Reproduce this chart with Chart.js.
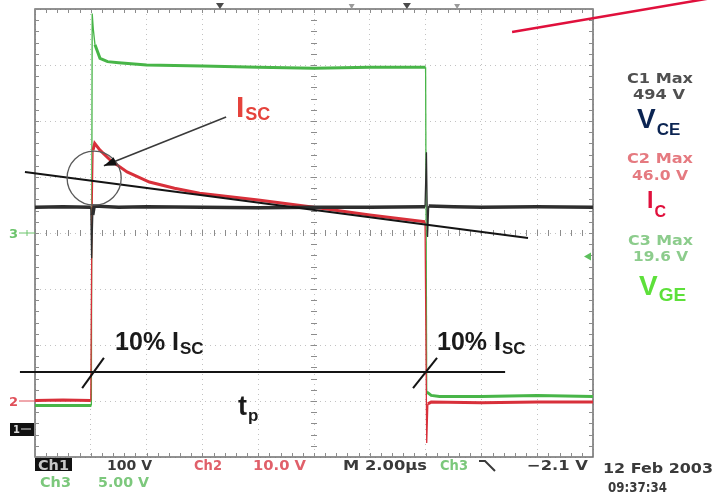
<!DOCTYPE html>
<html>
<head>
<meta charset="utf-8">
<title>Short-circuit test</title>
<script src="https://cdn.jsdelivr.net/npm/chart.js@4.4.0/dist/chart.umd.min.js"></script>
<style>
    body { margin: 0; background: #fff; }
    canvas { display: block; }
</style>
</head>
<body>
<canvas id="scope" width="713" height="497"></canvas>
<script>
// Scope capture: IGBT short-circuit pulse (VCE, IC, VGE)

// Channel settings: volts per division, ground level in divisions
const ch1 = { perDiv: 100, ground: 0.5 };   // VCE
const ch2 = { perDiv: 10, ground: 1.0 };    // IC probe
const ch3 = { perDiv: 5, ground: 4.0 };     // VGE
const triggerLevel = -2.1;                  // on Ch3

// Ch1 - VCE (V), time in us (2 us/div)
const vceTime  = [0, 1.0, 2.0, 2.03, 2.07, 2.12, 3.0, 4.0, 6.0, 8.0, 10.0, 12.0, 13.98, 14.03, 14.07, 14.11, 15.0, 16.0, 18.0, 20.0];
const vceVolts = [396, 397, 396, 305, 382, 398, 396, 397, 396, 395, 396, 396, 397, 494, 343, 398, 397, 396, 397, 396];

// Ch2 - IC (V on 10 V/div)
const icTime  = [0, 1.0, 2.0, 2.04, 2.08, 2.14, 2.33, 2.7, 3.3, 4.1, 5.0, 5.9, 8.0, 10.0, 12.0, 13.98, 14.04, 14.08, 14.2, 16.0, 18.0, 20.0];
const icVolts = [0.1, 0.2, 0.1, 32.0, 44.8, 46.0, 44.8, 43.0, 40.9, 39.1, 38.0, 37.1, 35.9, 34.6, 33.2, 32.0, -7.5, -0.5, -0.2, -0.3, -0.2, -0.2];

// Ch3 - VGE (V)
const vgeTime  = [0, 1.0, 2.02, 2.05, 2.09, 2.15, 2.33, 2.6, 3.0, 4.0, 6.0, 8.0, 10.0, 12.0, 14.0, 14.04, 14.1, 14.2, 14.5, 16.0, 18.0, 20.0];
const vgeVolts = [-15.4, -15.4, -15.4, 19.6, 18.2, 16.8, 15.6, 15.3, 15.2, 15.0, 14.9, 14.8, 14.7, 14.8, 14.8, -14.2, -14.3, -14.5, -14.6, -14.6, -14.5, -14.6];

// Hand-drawn notes, [time us, divisions]
const tangentLine = [[-0.36, 5.09], [17.67, 3.91]];
const peakCircle = { t: 2.12, d: 4.98, r: 0.97 };
const peakArrow = [[6.85, 6.07], [2.47, 5.20]];
const cornerLine = [[17.10, 7.59], [24.30, 8.20]];
const tenPercentLine = [[-0.54, 1.52], [16.85, 1.52]];
const crossMarks = [[[1.69, 1.23], [2.47, 1.77]], [[13.55, 1.23], [14.41, 1.77]]];
const tenPercentLabels = [[2.87, 1.91], [14.41, 1.91]];
const iscLabel = [7.20, 6.07];
const tpLabel = [7.28, 0.75];

function trace(times, volts, ch) {
    return times.map((t, i) => ({ x: t, y: ch.ground + volts[i] / ch.perDiv }));
}

// fast edges are drawn thin, like on the scope screen
function edgeWidth(ctx) {
    const dx = Math.abs(ctx.p1.x - ctx.p0.x);
    const dy = Math.abs(ctx.p1.y - ctx.p0.y);
    return dy > 6 * dx && dy > 10 ? 1.3 : undefined;
}

// text stretched to a given width
function fitText(c, text, x, y, w, font, color) {
    c.font = font;
    c.fillStyle = color;
    const m = c.measureText(text).width;
    c.save();
    c.translate(x, y);
    c.scale(w / m, 1);
    c.fillText(text, 0, 0);
    c.restore();
}

function subText(c, main, sub, x, y, mainSize, subSize, subDrop, color) {
    c.fillStyle = color;
    c.font = 'bold ' + mainSize + 'px "Liberation Sans", Arial, sans-serif';
    c.fillText(main, x, y);
    const w = c.measureText(main).width;
    c.font = 'bold ' + subSize + 'px "Liberation Sans", Arial, sans-serif';
    c.fillText(sub, x + w + 1, y + subDrop);
}

function drawFrame(chart) {
    const c = chart.ctx;
    const a = chart.chartArea;
    const xs = chart.scales.x, ys = chart.scales.y;
    const cx = xs.getPixelForValue(10), cy = ys.getPixelForValue(4);
    c.save();
    c.strokeStyle = '#6e6e6e';
    c.lineWidth = 1.5;
    c.strokeRect(a.left, a.top, a.right - a.left, a.bottom - a.top);

    c.strokeStyle = '#8c8c8c';
    c.lineWidth = 1;
    c.beginPath();
    for (let t = 0; t <= 20.001; t += 0.4) {
        const px = Math.round(xs.getPixelForValue(t)) + 0.5;
        c.moveTo(px, a.top); c.lineTo(px, a.top + 4);
        c.moveTo(px, a.bottom); c.lineTo(px, a.bottom - 4);
        c.moveTo(px, cy - 3); c.lineTo(px, cy + 3);
    }
    for (let d = 0; d <= 8.001; d += 0.2) {
        const py = Math.round(ys.getPixelForValue(d)) + 0.5;
        c.moveTo(a.left, py); c.lineTo(a.left + 4, py);
        c.moveTo(a.right, py); c.lineTo(a.right - 4, py);
        c.moveTo(cx - 3, py); c.lineTo(cx + 3, py);
    }
    c.stroke();

    // position markers on the top edge
    c.fillStyle = '#4a4a4a';
    [6.63, 13.33].forEach(t => {
        const px = xs.getPixelForValue(t);
        c.beginPath();
        c.moveTo(px - 4, a.top - 6); c.lineTo(px + 4, a.top - 6); c.lineTo(px, a.top);
        c.fill();
    });
    c.fillStyle = '#9a9a9a';
    [11.35, 15.13].forEach(t => {
        const px = xs.getPixelForValue(t);
        c.beginPath();
        c.moveTo(px - 3, a.top - 5); c.lineTo(px + 3, a.top - 5); c.lineTo(px, a.top);
        c.fill();
    });

    // channel ground markers
    c.filter = 'blur(0.4px)';
    const g2 = ys.getPixelForValue(ch2.ground);
    c.fillStyle = '#e0505a';
    c.font = 'bold 13px "DejaVu Sans", sans-serif';
    c.fillText('2', 9, g2 + 5);
    c.strokeStyle = '#e0505a';
    c.beginPath(); c.moveTo(19, g2); c.lineTo(a.left, g2); c.stroke();

    const g3 = ys.getPixelForValue(ch3.ground);
    c.fillStyle = '#6cc46c';
    c.fillText('3', 9, g3 + 5);
    c.strokeStyle = '#6cc46c';
    c.beginPath(); c.moveTo(19, g3); c.lineTo(a.left, g3); c.moveTo(27, g3 - 3); c.lineTo(27, g3 + 3); c.stroke();

    const g1 = ys.getPixelForValue(ch1.ground);
    c.fillStyle = '#111';
    c.fillRect(10, g1 - 6, 24, 13);
    c.fillStyle = '#ddd';
    c.font = 'bold 10px "DejaVu Sans", sans-serif';
    c.fillText('1', 13, g1 + 4);
    c.beginPath(); c.moveTo(21, g1); c.lineTo(31, g1); c.strokeStyle = '#ddd'; c.stroke();

    // trigger level marker (Ch3)
    const tl = ys.getPixelForValue(ch3.ground + triggerLevel / ch3.perDiv);
    c.fillStyle = '#5cbf5c';
    c.beginPath();
    c.moveTo(a.right - 9, tl); c.lineTo(a.right - 2, tl - 4); c.lineTo(a.right - 2, tl + 4);
    c.fill();
    c.restore();
}

function drawNotes(chart) {
    const c = chart.ctx;
    const xs = chart.scales.x, ys = chart.scales.y;
    const P = p => [xs.getPixelForValue(p[0]), ys.getPixelForValue(p[1])];
    const line = (pts, color, width) => {
        const p0 = P(pts[0]), p1 = P(pts[1]);
        c.strokeStyle = color;
        c.lineWidth = width;
        c.beginPath(); c.moveTo(p0[0], p0[1]); c.lineTo(p1[0], p1[1]); c.stroke();
    };
    c.save();
    line(tangentLine, '#141414', 2);
    line(tenPercentLine, '#141414', 2);
    crossMarks.forEach(m => line(m, '#141414', 2));
    line(cornerLine, '#e0103c', 2.5);

    // circle round the current peak
    const cc = P([peakCircle.t, peakCircle.d]);
    const r = xs.getPixelForValue(peakCircle.t + peakCircle.r) - cc[0];
    c.strokeStyle = '#5a5a5a';
    c.lineWidth = 1.3;
    c.beginPath(); c.arc(cc[0], cc[1], r, 0, Math.PI * 2); c.stroke();

    // arrow to the peak
    const a0 = P(peakArrow[0]), a1 = P(peakArrow[1]);
    c.strokeStyle = '#3a3a3a';
    c.lineWidth = 1.6;
    c.beginPath(); c.moveTo(a0[0], a0[1]); c.lineTo(a1[0], a1[1]); c.stroke();
    const ang = Math.atan2(a1[1] - a0[1], a1[0] - a0[0]);
    c.fillStyle = '#111';
    c.beginPath();
    c.moveTo(a1[0], a1[1]);
    c.lineTo(a1[0] - 13 * Math.cos(ang - 0.35), a1[1] - 13 * Math.sin(ang - 0.35));
    c.lineTo(a1[0] - 13 * Math.cos(ang + 0.35), a1[1] - 13 * Math.sin(ang + 0.35));
    c.closePath();
    c.fill();

    // labels
    const isc = P(iscLabel);
    subText(c, 'I', 'SC', isc[0], isc[1], 30, 18, 3, '#e5433c');
    tenPercentLabels.forEach(p => {
        const q = P(p);
        subText(c, '10% I', 'SC', q[0], q[1], 25, 17, 4, '#1a1a1a');
    });
    const tp = P(tpLabel);
    subText(c, 't', 'p', tp[0], tp[1], 27, 17, 6, '#1a1a1a');
    c.restore();
}

function drawReadouts(chart) {
    const c = chart.ctx;
    const scopeFont = 'bold 14px "DejaVu Sans", sans-serif';
    c.save();
    c.filter = 'blur(0.5px)';

    // side readouts
    fitText(c, 'C1 Max', 627, 83, 66, scopeFont, '#505050');
    fitText(c, '494 V', 633, 99, 52, scopeFont, '#505050');
    fitText(c, 'C2 Max', 627, 163, 66, scopeFont, '#e57a80');
    fitText(c, '46.0 V', 632, 180, 56, scopeFont, '#e57a80');
    fitText(c, 'C3 Max', 628, 245, 65, scopeFont, '#8ccc8c');
    fitText(c, '19.6 V', 633, 261, 55, scopeFont, '#8ccc8c');

    // bottom status line
    c.fillStyle = '#111';
    c.fillRect(35, 458, 37, 13);
    fitText(c, 'Ch1', 38, 470, 31, scopeFont, '#c8c8c8');
    fitText(c, '100 V', 107, 470, 45, scopeFont, '#3a3a3a');
    fitText(c, 'Ch2', 194, 470, 28, scopeFont, '#e0606a');
    fitText(c, '10.0 V', 253, 470, 53, scopeFont, '#e0606a');
    fitText(c, 'M 2.00\u00b5s', 343, 470, 84, scopeFont, '#3a3a3a');
    fitText(c, 'Ch3', 440, 470, 28, scopeFont, '#7cc87c');
    fitText(c, '\u22122.1 V', 527, 470, 61, scopeFont, '#3a3a3a');
    fitText(c, 'Ch3', 40, 487, 31, scopeFont, '#7cc87c');
    fitText(c, '5.00 V', 98, 487, 51, scopeFont, '#7cc87c');
    fitText(c, '12 Feb 2003', 603, 473, 110, scopeFont, '#3a3a3a');
    fitText(c, '09:37:34', 608, 492, 59, scopeFont, '#3a3a3a');

    // trigger slope symbol
    c.strokeStyle = '#3a3a3a';
    c.lineWidth = 2;
    c.beginPath();
    c.moveTo(479, 461); c.lineTo(485, 461); c.lineTo(495, 471);
    c.stroke();
    c.restore();

    // channel names
    c.save();
    subText(c, 'V', 'CE', 637, 128, 28, 17, 7, '#0b2452');
    subText(c, 'I', 'C', 647, 208, 23, 16, 9, '#e0103c');
    subText(c, 'V', 'GE', 639, 295, 28, 19, 6, '#5de03a');
    c.restore();
}

const scopeDecor = {
    id: 'scopeDecor',
    beforeDraw(chart) {
        const c = chart.ctx;
        c.save();
        c.fillStyle = '#fff';
        c.fillRect(0, 0, chart.width, chart.height);
        c.restore();
    },
    beforeDatasetsDraw(chart) {
        drawFrame(chart);
    },
    afterDatasetsDraw(chart) {
        drawNotes(chart);
        drawReadouts(chart);
    }
};

// dotted scope graticule
const gridLook = {
    color: '#c2c2c2',
    lineWidth: 1,
    drawTicks: false,
    tickLength: 0
};
const gridBorder = { display: false, dash: [1, 4] };

// dataset 0 is drawn on top
new Chart(document.getElementById('scope').getContext('2d'), {
    type: 'scatter',
    data: {
        datasets: [
            {
                label: 'VCE',
                data: trace(vceTime, vceVolts, ch1),
                borderColor: '#2e2e2e',
                borderWidth: 3.5,
                segment: { borderWidth: edgeWidth }
            },
            {
                label: 'IC',
                data: trace(icTime, icVolts, ch2),
                borderColor: '#d8303a',
                borderWidth: 3,
                segment: { borderWidth: edgeWidth }
            },
            {
                label: 'VGE',
                data: trace(vgeTime, vgeVolts, ch3),
                borderColor: '#48b548',
                borderWidth: 3,
                segment: { borderWidth: edgeWidth }
            }
        ].map(ds => Object.assign(ds, { showLine: true, pointRadius: 0, tension: 0, fill: false }))
    },
    options: {
        responsive: false,
        animation: false,
        layout: { padding: { left: 35, top: 9, right: 120, bottom: 40 } },
        plugins: {
            legend: { display: false },
            tooltip: { enabled: false }
        },
        scales: {
            x: {
                type: 'linear',
                min: 0,
                max: 20,
                ticks: { display: false, stepSize: 2 },
                grid: gridLook,
                border: gridBorder
            },
            y: {
                type: 'linear',
                min: 0,
                max: 8,
                ticks: { display: false, stepSize: 1 },
                grid: gridLook,
                border: gridBorder
            }
        }
    },
    plugins: [scopeDecor]
});
</script>
</body>
</html>
